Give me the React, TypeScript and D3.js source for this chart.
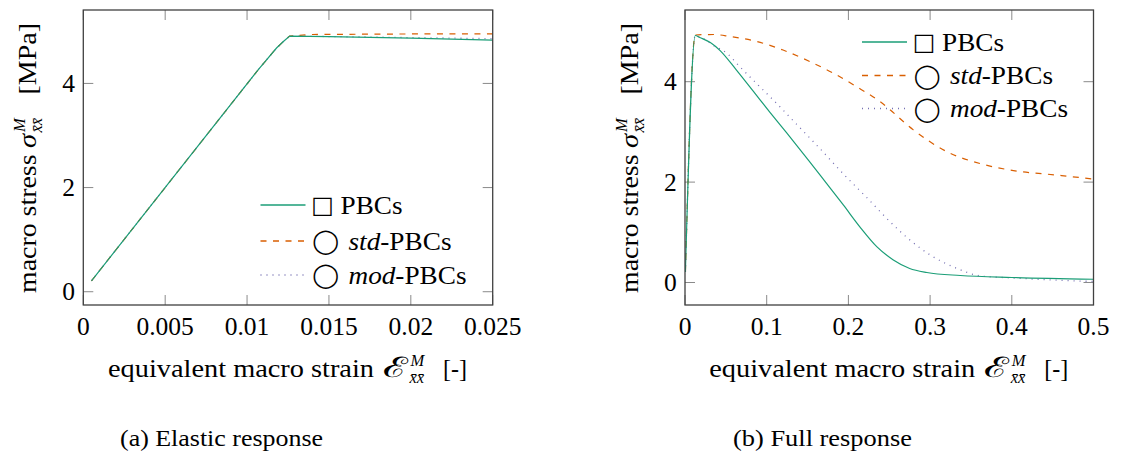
import React from "react";
import * as d3 from "d3";

// ---------- data ----------
// (a) Elastic response
const elasticPbcX = [0.0005, 0.0107, 0.0118, 0.0122, 0.0126, 0.015, 0.02, 0.025];
const elasticPbcY = [0.21, 4.27, 4.68, 4.8, 4.91, 4.9, 4.87, 4.83];
const elasticStdX = [0.0005, 0.0107, 0.0118, 0.0122, 0.0126, 0.014, 0.02, 0.025];
const elasticStdY = [0.21, 4.27, 4.68, 4.8, 4.91, 4.94, 4.95, 4.95];
const elasticModX = [0.0005, 0.0107, 0.0118, 0.0122, 0.0126, 0.015, 0.02, 0.025];
const elasticModY = [0.21, 4.27, 4.68, 4.8, 4.91, 4.9, 4.88, 4.86];

// (b) Full response
const fullPbcX = [0.0005, 0.0126, 0.018, 0.031, 0.043, 0.063, 0.084, 0.104, 0.1245, 0.151, 0.173, 0.194, 0.214, 0.235, 0.255, 0.275, 0.296, 0.337, 0.4, 0.5];
const fullPbcY = [0.21, 4.92, 4.88, 4.78, 4.62, 4.23, 3.8, 3.39, 2.98, 2.44, 1.98, 1.54, 1.11, 0.71, 0.45, 0.28, 0.2, 0.14, 0.1, 0.065];
const fullStdX = [0.0005, 0.0126, 0.035, 0.055, 0.088, 0.12, 0.153, 0.1815, 0.21, 0.239, 0.2795, 0.32, 0.361, 0.402, 0.455, 0.5];
const fullStdY = [0.21, 4.93, 4.94, 4.9, 4.8, 4.63, 4.4, 4.17, 3.9, 3.6, 3.04, 2.61, 2.37, 2.23, 2.14, 2.06];
const fullModX = [0.0005, 0.0126, 0.02, 0.034, 0.051, 0.067, 0.0897, 0.112, 0.1326, 0.155, 0.165, 0.194, 0.222, 0.251, 0.275, 0.3, 0.333, 0.362, 0.402, 0.45, 0.5];
const fullModY = [0.21, 4.92, 4.88, 4.73, 4.57, 4.3, 3.93, 3.57, 3.22, 2.84, 2.67, 2.16, 1.7, 1.21, 0.85, 0.55, 0.28, 0.13, 0.09, 0.05, 0.02];

const elasticXTicks = [0, 0.005, 0.01, 0.015, 0.02, 0.025];
const elasticXTickLabels = ["0", "0.005", "0.01", "0.015", "0.02", "0.025"];
const fullXTicks = [0, 0.1, 0.2, 0.3, 0.4, 0.5];
const fullXTickLabels = ["0", "0.1", "0.2", "0.3", "0.4", "0.5"];
const yTicks = [0, 2, 4];
const yTickLabels = ["0", "2", "4"];

const seriesNames = ["PBCs", "std", "mod"];
const colors = ["#1b9e77", "#d95f02", "#7570b3"];
const dashes = [null, "6,6.5", "1,5"];

const FONT = "'Liberation Serif', 'Times New Roman', serif";
const FS = 26;
const FS_TICK = 25.5;

type Panel = {
  box: { x0: number; x1: number; y0: number; y1: number };
  xDomain: [number, number];
  yDomain: [number, number];
  xTicks: number[];
  xTickLabels: string[];
  series: { x: number[]; y: number[] }[];
  curve: any;
  legend: { x: number; rows: number[] };
  caption: string;
  captionX: number;
  captionW: number;
  id: string;
};

const panels: Panel[] = [
  {
    id: "a",
    box: { x0: 83.3, x1: 492.7, y0: 10, y1: 305 },
    xDomain: [0, 0.025],
    yDomain: [-0.255, 5.41],
    xTicks: elasticXTicks,
    xTickLabels: elasticXTickLabels,
    series: [
      { x: elasticPbcX, y: elasticPbcY },
      { x: elasticStdX, y: elasticStdY },
      { x: elasticModX, y: elasticModY },
    ],
    curve: d3.curveLinear,
    legend: { x: 260.5, rows: [205, 241, 275] },
    caption: "(a) Elastic response",
    captionX: 120,
    captionW: 203,
  },
  {
    id: "b",
    box: { x0: 685, x1: 1093.5, y0: 10, y1: 305 },
    xDomain: [0, 0.5],
    yDomain: [-0.448, 5.428],
    xTicks: fullXTicks,
    xTickLabels: fullXTickLabels,
    series: [
      { x: fullPbcX, y: fullPbcY },
      { x: fullStdX, y: fullStdY },
      { x: fullModX, y: fullModY },
    ],
    curve: d3.curveMonotoneX,
    legend: { x: 862, rows: [42, 75.5, 108.5] },
    caption: "(b) Full response",
    captionX: 733,
    captionW: 179,
  },
];

function PanelView({ p }: { p: Panel }) {
  const { box } = p;
  const x = d3.scaleLinear().domain(p.xDomain).range([box.x0, box.x1]);
  const y = d3.scaleLinear().domain(p.yDomain).range([box.y1, box.y0]);
  const TL = 10;
  const order = [2, 1, 0];
  const cx = (box.x0 + box.x1) / 2;
  const cy = (box.y0 + box.y1) / 2;
  const lx = p.legend.x;
  return (
    <g>
      <defs>
        <clipPath id={"clip" + p.id}>
          <rect x={box.x0} y={box.y0} width={box.x1 - box.x0} height={box.y1 - box.y0} />
        </clipPath>
      </defs>
      {/* ticks */}
      {p.xTicks.map((t, i) => (
        <g key={"xt" + i}>
          <line x1={x(t)} x2={x(t)} y1={box.y1} y2={box.y1 - TL} stroke="#8a8a8a" strokeWidth={1} />
          <line x1={x(t)} x2={x(t)} y1={box.y0} y2={box.y0 + TL} stroke="#8a8a8a" strokeWidth={1} />
          <text x={x(t)} y={335} textAnchor="middle" fontFamily={FONT} fontSize={FS_TICK}>
            {p.xTickLabels[i]}
          </text>
        </g>
      ))}
      {yTicks.map((t, i) => (
        <g key={"yt" + i}>
          <line x1={box.x0} x2={box.x0 + TL} y1={y(t)} y2={y(t)} stroke="#8a8a8a" strokeWidth={1} />
          <line x1={box.x1} x2={box.x1 - TL} y1={y(t)} y2={y(t)} stroke="#8a8a8a" strokeWidth={1} />
          <text x={box.x0 - 8.3} y={y(t) + 8.5} textAnchor="end" fontFamily={FONT} fontSize={FS_TICK}>
            {yTickLabels[i]}
          </text>
        </g>
      ))}
      {/* lines */}
      <g clipPath={`url(#clip${p.id})`}>
        {order.map((si) => {
          const s = p.series[si];
          const pts: [number, number][] = s.x.map((v, k) => [v, s.y[k]]);
          const gen = d3
            .line<[number, number]>()
            .x((d) => x(d[0]))
            .y((d) => y(d[1]))
            .curve(p.curve);
          return (
            <path
              key={si}
              d={gen(pts) || ""}
              fill="none"
              stroke={colors[si]}
              strokeWidth={si === 2 ? 1.3 : 1.2}
              strokeDasharray={dashes[si] || undefined}
            />
          );
        })}
      </g>
      {/* frame */}
      <rect x={box.x0} y={box.y0} width={box.x1 - box.x0} height={box.y1 - box.y0} fill="none" stroke="#404040" strokeWidth={1.3} />
      {/* legend */}
      {p.legend.rows.map((ry, i) => (
        <g key={"lg" + i}>
          <line x1={lx} x2={lx + 45} y1={ry} y2={ry} stroke={colors[i]} strokeWidth={1.3} strokeDasharray={dashes[i] || undefined} />
          <text x={lx + (i === 0 ? 62 : 65.3)} y={ry + 8.3} textAnchor="middle" fontFamily="'DejaVu Sans'" fontSize={24}>
            {i === 0 ? "□" : "◯"}
          </text>
          {i === 0 ? (
            <text x={lx + 80} y={ry + 8.5} fontFamily={FONT} fontSize={FS} textLength={62} lengthAdjust="spacingAndGlyphs">
              PBCs
            </text>
          ) : (
            <text x={lx + 88} y={ry + 8.5} fontFamily={FONT} fontSize={FS} textLength={i === 1 ? 103 : 118} lengthAdjust="spacingAndGlyphs">
              <tspan fontStyle="italic">{seriesNames[i]}</tspan>
              <tspan>-PBCs</tspan>
            </text>
          )}
        </g>
      ))}
      {/* x axis label */}
      <g transform={`translate(${cx},377)`} fontFamily={FONT} fontSize={FS}>
        <text x={-180} y={0} textLength={266} lengthAdjust="spacingAndGlyphs">equivalent macro strain</text>
        <text x={95} y={0} fontFamily="'DejaVu Serif'" fontSize={28} textLength={25} lengthAdjust="spacingAndGlyphs">ℰ</text>
        <text x={122.5} y={-11} fontSize={16.5} fontStyle="italic">M</text>
        <text x={121.5} y={6} fontSize={16.5} fontStyle="italic">x̄x̄</text>
        <text x={155} y={0} textLength={24} lengthAdjust="spacingAndGlyphs">[-]</text>
      </g>
      {/* y axis label */}
      <g transform={`translate(${box.x0 - 47},${cy}) rotate(-90)`} fontFamily={FONT} fontSize={FS}>
        <text x={-135.5} y={0} textLength={138.5} lengthAdjust="spacingAndGlyphs">macro stress</text>
        <text x={9.5} y={0} fontStyle="italic" textLength={14} lengthAdjust="spacingAndGlyphs">σ</text>
        <text x={25.5} y={-11} fontSize={16.5} fontStyle="italic">M</text>
        <text x={25} y={6} fontSize={16.5} fontStyle="italic">x̄x̄</text>
        <text x={63} y={0} textLength={71.5} lengthAdjust="spacingAndGlyphs">[MPa]</text>
      </g>
      <text x={p.captionX} y={446} fontFamily={FONT} fontSize={23.5} textLength={p.captionW} lengthAdjust="spacingAndGlyphs">
        {p.caption}
      </text>
    </g>
  );
}

export default function App() {
  return (
    <svg
      width={1126}
      height={457}
      viewBox="0 0 1126 457"
      style={{ position: "absolute", left: 0, top: 0, background: "#fff" }}
    >
      <rect width={1126} height={457} fill="#fff" />
      {panels.map((p) => (
        <PanelView key={p.id} p={p} />
      ))}
    </svg>
  );
}
